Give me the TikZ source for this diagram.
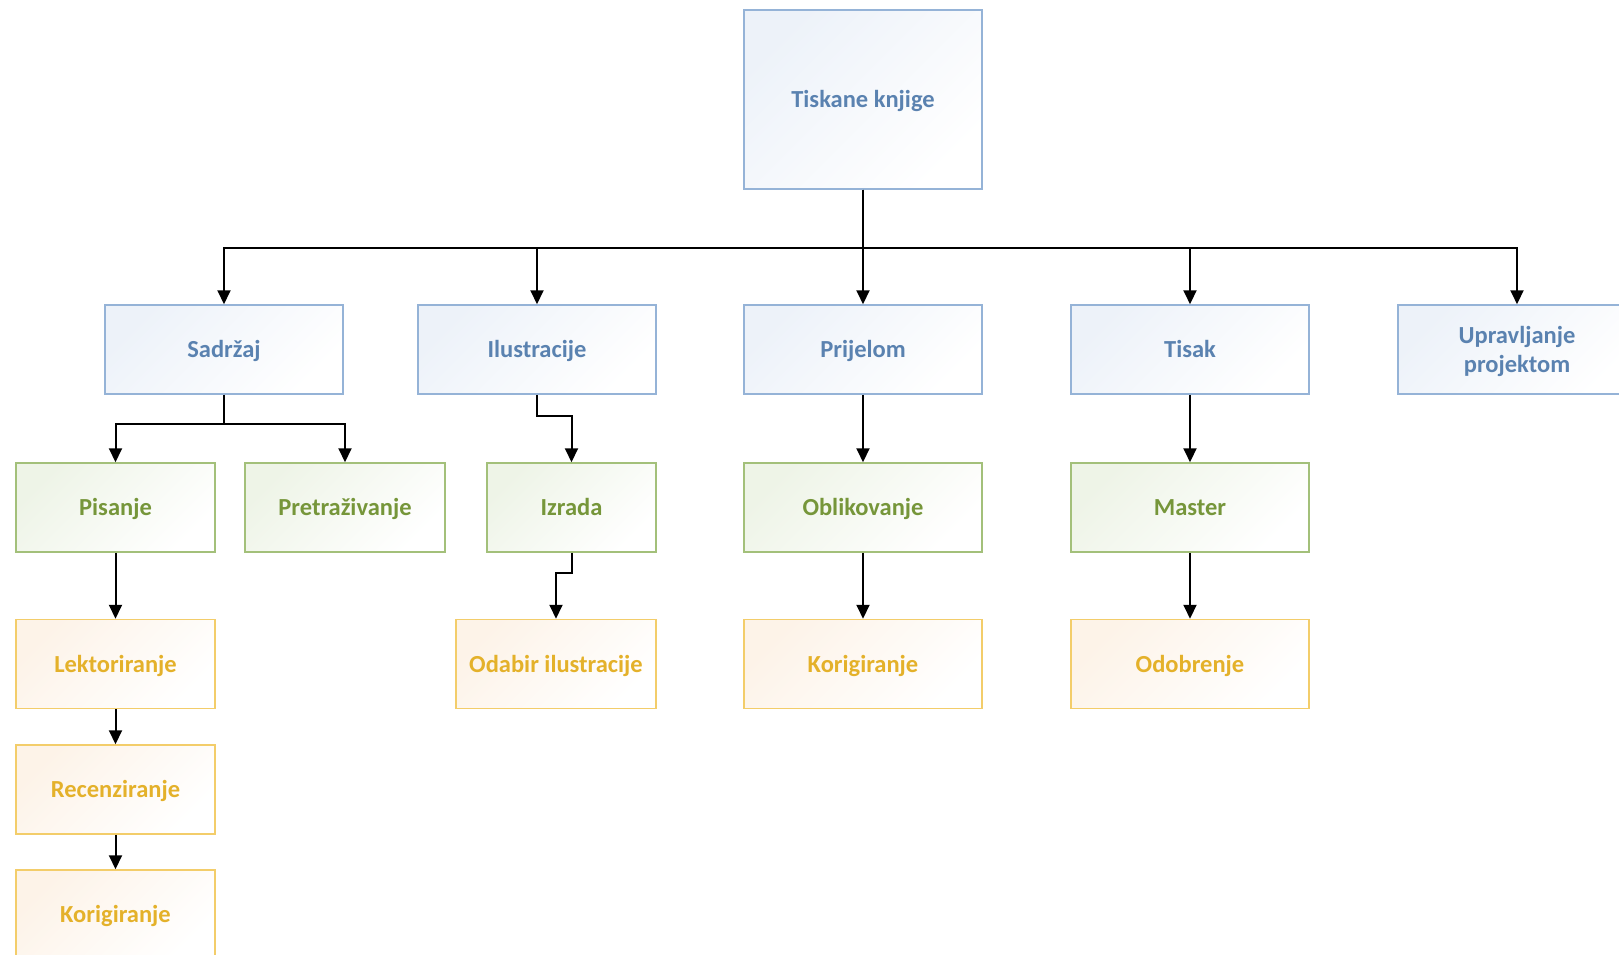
\documentclass[tikz,border=0pt]{standalone}
\usepackage{fontspec}
\setmainfont{Carlito}
\usetikzlibrary{arrows.meta}
\definecolor{bluetxt}{HTML}{5A82B0}
\definecolor{blueln}{HTML}{95B3D7}
\definecolor{bluefl}{HTML}{EDF2F9}
\definecolor{greentxt}{HTML}{76963A}
\definecolor{greenln}{HTML}{A3C07A}
\definecolor{greenfl}{HTML}{EEF4E7}
\definecolor{orgtxt}{HTML}{E4B12A}
\definecolor{orgln}{HTML}{F3CD6A}
\definecolor{orgfl}{HTML}{FDF3E8}
\tikzset{
  box/.style={draw, line width=1.5pt, rectangle, align=center,
    font=\fontsize{24.5}{29}\selectfont\bfseries, inner sep=0pt,
    text height=19pt, text depth=3pt},
  bluebox/.style={box, draw=blueln, text=bluetxt, top color=bluefl, bottom color=white, shading angle=45},
  greenbox/.style={box, draw=greenln, text=greentxt, top color=greenfl, bottom color=white, shading angle=45},
  orgbox/.style={box, draw=orgln, text=orgtxt, top color=orgfl, bottom color=white, shading angle=45},
  arr/.style={line width=2pt, black, -{Triangle[width=13pt,length=14pt]}},
}
\begin{document}
\begin{tikzpicture}[x=1pt,y=-1pt]
\useasboundingbox (0,0) rectangle (1619,955);
\clip (0,0) rectangle (1619,955);
\fill[white] (0,0) rectangle (1619,955);
% root
\node[bluebox, minimum width=238pt, minimum height=179pt] (top) at (863,99.5) {Tiskane knjige};
% level 1
\node[bluebox, minimum width=238pt, minimum height=89pt] (sad) at (224,349.5) {Sadržaj};
\node[bluebox, minimum width=238pt, minimum height=89pt] (ilu) at (537,349.5) {Ilustracije};
\node[bluebox, minimum width=238pt, minimum height=89pt] (pri) at (863,349.5) {Prijelom};
\node[bluebox, minimum width=238pt, minimum height=89pt] (tis) at (1190,349.5) {Tisak};
\node[bluebox, minimum width=238pt, minimum height=89pt, text height=, text depth=, inner ysep=2pt] (upr) at (1517,349.5) {\rule{0pt}{22pt}Upravljanje\\projektom};
% level 2
\node[greenbox, minimum width=199pt, minimum height=89pt] (pis) at (115.5,507.5) {Pisanje};
\node[greenbox, minimum width=200pt, minimum height=89pt] (pre) at (345,507.5) {Pretraživanje};
\node[greenbox, minimum width=169pt, minimum height=89pt] (izr) at (571.5,507.5) {Izrada};
\node[greenbox, minimum width=238pt, minimum height=89pt] (obl) at (863,507.5) {Oblikovanje};
\node[greenbox, minimum width=238pt, minimum height=89pt] (mas) at (1190,507.5) {Master};
% level 3
\node[orgbox, minimum width=199pt, minimum height=89pt] (lek) at (115.5,664) {Lektoriranje};
\node[orgbox, minimum width=200pt, minimum height=89pt] (oda) at (556,664) {Odabir ilustracije};
\node[orgbox, minimum width=238pt, minimum height=89pt] (kor) at (863,664) {Korigiranje};
\node[orgbox, minimum width=238pt, minimum height=89pt] (odo) at (1190,664) {Odobrenje};
% level 4,5
\node[orgbox, minimum width=199pt, minimum height=89pt] (rec) at (115.5,789.5) {Recenziranje};
\node[orgbox, minimum width=199pt, minimum height=89pt] (kor2) at (115.5,914.5) {Korigiranje};
% connectors
\coordinate (bus) at (863,248);
\coordinate (sbus) at (224,424);
\coordinate (ibus) at (537,416);
\coordinate (obus) at (571.5,573);
\draw[arr] (top.south) |- (bus) -| (sad.north);
\draw[arr] (top.south) |- (bus) -| (ilu.north);
\draw[arr] (top.south) -- (pri.north);
\draw[arr] (top.south) |- (bus) -| (tis.north);
\draw[arr] (top.south) |- (bus) -| (upr.north);
\draw[arr] (sad.south) |- (sbus) -| (pis.north);
\draw[arr] (sad.south) |- (sbus) -| (pre.north);
\draw[arr] (ilu.south) |- (ibus) -| (izr.north);
\draw[arr] (izr.south) |- (obus) -| (oda.north);
\draw[arr] (pri.south) -- (obl.north);
\draw[arr] (tis.south) -- (mas.north);
\draw[arr] (pis.south) -- (lek.north);
\draw[arr] (obl.south) -- (kor.north);
\draw[arr] (mas.south) -- (odo.north);
\draw[arr] (lek.south) -- (rec.north);
\draw[arr] (rec.south) -- (kor2.north);
\end{tikzpicture}
\end{document}
